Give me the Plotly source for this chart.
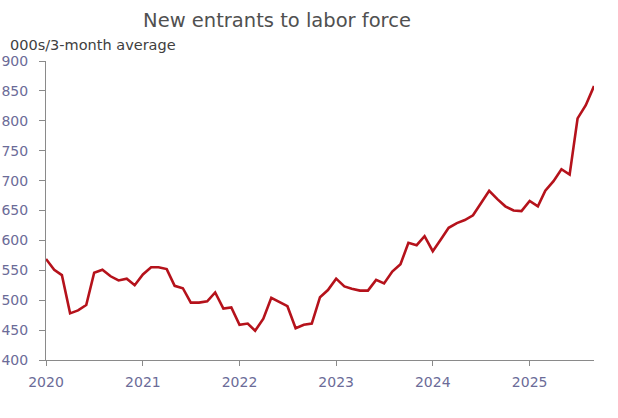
import plotly.graph_objects as go
import pandas as pd

months = pd.date_range("2020-01-01", "2025-09-01", freq="MS")
values = [
    569, 551, 542, 478, 483, 492, 546, 551, 540, 533, 536, 525,   # 2020
    543, 555, 555, 552, 524, 520, 496, 496, 498, 513, 486, 488,   # 2021
    459, 461, 449, 469, 504, 497, 490, 453, 459, 461, 505, 517,   # 2022
    536, 523, 519, 516, 516, 534, 528, 548, 560, 596, 592, 607,   # 2023
    582, 602, 621, 629, 634, 642, 662, 683, 669, 657, 650, 649,   # 2024
    666, 657, 683, 699, 719, 710, 804, 826, 858,                  # 2025
]
year_ticks = ["2020", "2021", "2022", "2023", "2024", "2025"]
y_ticks = [400, 450, 500, 550, 600, 650, 700, 750, 800, 850, 900]

title_text = "New entrants to labor force"
unit_text = "000s/3-month average"

font_family = "DejaVu Sans, Verdana, sans-serif"
tick_color = "#6b6b98"
axis_color = "#8a8a8a"

fig = go.Figure()
fig.add_trace(go.Scatter(
    x=months, y=values, mode="lines",
    line=dict(color="#b5121b", width=2.6),
    hoverinfo="x+y",
))

fig.update_layout(
    width=618, height=418,
    margin=dict(l=46, r=24, t=61, b=58, autoexpand=False),
    paper_bgcolor="white", plot_bgcolor="white",
    showlegend=False,
    font=dict(family=font_family, color=tick_color, size=14),
    title=dict(text=title_text, x=277 / 618, xanchor="center", y=1 - 20 / 418, yanchor="middle",
               font=dict(size=19.5, color="#505050", family=font_family)),
    xaxis=dict(
        range=[months[0], months[-1]],
        tickvals=[f"{y}-01-01" for y in year_ticks],
        ticktext=year_ticks,
        showgrid=False, zeroline=False, automargin=False,
        showline=True, linecolor=axis_color, linewidth=1,
        ticks="outside", ticklen=5, tickcolor=axis_color,
        tickfont=dict(size=14, color=tick_color),
        ticklabelstandoff=4,
    ),
    yaxis=dict(
        range=[400, 900],
        tickvals=y_ticks,
        showgrid=False, zeroline=False, automargin=False,
        showline=True, linecolor=axis_color, linewidth=1,
        ticks="outside", ticklen=6, tickcolor=axis_color,
        tickfont=dict(size=14, color=tick_color),
        ticklabelstandoff=8,
    ),
    annotations=[dict(
        text=unit_text, xref="paper", yref="paper",
        x=(8 - 46) / 548, y=1 + (61 - 45) / 299, xanchor="left", yanchor="middle",
        showarrow=False, font=dict(size=14.5, color="#404040", family=font_family),
    )],
)

fig.write_html("out.html", config={"displayModeBar": False},
               post_script="document.body.style.margin='0';")
